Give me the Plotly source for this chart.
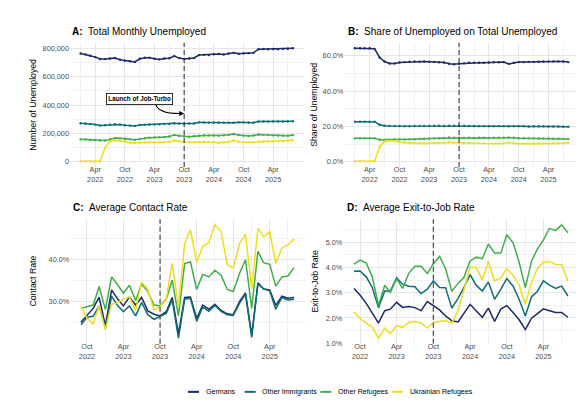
import pandas as pd
import plotly.graph_objects as go

# ---------------- data ----------------
series_names = ["Germans", "Other Immigrants", "Other Refugees", "Ukrainian Refugees"]
colors = ["#1B2A6B", "#0E6E74", "#3FAE4B", "#F0DE1E"]

months_ab = pd.date_range("2022-01-01", "2025-08-01", freq="MS")
months_cd = pd.date_range("2022-09-01", "2025-08-01", freq="MS")

# Panel A: total monthly unemployed (thousands of persons)
a_germans = [763, 757, 748, 738, 725, 724, 728, 732, 720, 712, 709, 704, 726, 733, 734, 727, 722, 728, 730, 745, 731, 725,
             728, 732, 752, 754, 752, 758, 760, 756, 763, 768, 762, 765, 766, 768, 794, 795, 793, 795, 794, 796, 797, 800]
a_other_imm = [272, 270, 266, 262, 256, 258, 262, 265, 262, 258, 255, 253, 260, 262, 263, 262, 264, 266, 267, 272, 270, 268,
               270, 270, 278, 277, 276, 277, 277, 276, 276, 275, 278, 278, 277, 276, 284, 284, 283, 284, 284, 283, 284, 286]
a_other_ref = [158, 157, 155, 153, 150, 150, 158, 167, 165, 162, 158, 155, 160, 166, 170, 172, 172, 175, 178, 188, 183, 178,
               177, 180, 184, 185, 186, 185, 183, 187, 190, 196, 188, 183, 182, 185, 192, 190, 188, 186, 185, 183, 184, 188]
a_ukr = [3, 3, 3, 3, 3, 100, 145, 152, 150, 143, 135, 133, 134, 136, 137, 136, 136, 138, 140, 150, 143, 140,
         138, 138, 140, 141, 140, 137, 135, 137, 140, 152, 142, 138, 137, 138, 142, 143, 143, 143, 144, 145, 148, 152]
a_series = [[v * 1000 for v in s] for s in (a_germans, a_other_imm, a_other_ref, a_ukr)]

# Panel B: share of unemployed (%)
b_germans = [64.2, 64.2, 64.2, 64.2, 63.9, 59.0, 56.7, 55.6, 55.6, 56.2, 56.4, 56.6, 56.7, 56.6, 56.7, 56.6, 56.5, 56.3,
             56.2, 55.5, 55.2, 55.5, 55.7, 56.0, 56.0, 56.0, 56.0, 56.2, 56.3, 56.3, 56.4, 55.4, 56.1, 56.4, 56.4, 56.5,
             56.5, 56.6, 56.7, 56.7, 56.8, 56.8, 56.7, 56.4]
b_other_imm = [22.7, 22.7, 22.7, 22.7, 22.7, 21.0, 20.4, 20.3, 20.3, 20.3, 20.2, 20.2, 20.3, 20.3, 20.3, 20.3, 20.4, 20.4,
               20.3, 20.4, 20.4, 20.5, 20.4, 20.3, 20.3, 20.2, 20.2, 20.2, 20.2, 20.2, 20.2, 20.1, 20.2, 20.2, 20.1, 20.0,
               20.1, 20.1, 20.1, 20.0, 20.0, 20.0, 19.9, 19.9]
b_other_ref = [13.3, 13.3, 13.3, 13.3, 13.3, 12.5, 12.4, 12.6, 12.7, 12.7, 12.6, 12.7, 12.8, 13.0, 13.1, 13.2, 13.3, 13.4,
               13.5, 13.8, 13.7, 13.6, 13.5, 13.6, 13.5, 13.6, 13.6, 13.5, 13.6, 13.7, 13.7, 13.8, 13.6, 13.4, 13.4, 13.3,
               13.3, 13.2, 13.2, 13.2, 13.1, 13.1, 13.0, 13.0]
b_ukr = [0.3, 0.3, 0.3, 0.3, 0.3, 8.6, 11.5, 12.0, 11.8, 11.3, 10.8, 10.6, 10.5, 10.5, 10.4, 10.5, 10.6, 10.7, 10.8,
         11.2, 10.9, 10.8, 10.6, 10.6, 10.6, 10.5, 10.5, 10.3, 10.1, 10.2, 10.4, 11.0, 10.5, 10.3, 10.2, 10.2, 10.3,
         10.3, 10.3, 10.3, 10.4, 10.5, 10.6, 10.8]
b_series = [b_germans, b_other_imm, b_other_ref, b_ukr]

# Panel C: average contact rate (%)
c_germans = [25.1, 26.8, 28.4, 31.1, 24.2, 32.8, 30.8, 29.0, 31.1, 29.2, 31.0, 27.8, 27.0, 26.6, 27.6, 31.0, 22.3, 31.0,
             31.1, 26.0, 29.2, 28.2, 29.4, 27.9, 27.1, 26.9, 30.0, 32.1, 22.0, 34.5, 33.0, 32.8, 29.1, 31.3, 30.8, 31.0]
c_other_imm = [24.5, 26.3, 26.5, 29.0, 23.7, 31.3, 29.2, 27.6, 29.0, 26.6, 29.8, 26.9, 25.8, 26.5, 27.2, 30.4, 21.3, 30.6,
               30.8, 25.3, 28.7, 27.7, 29.1, 27.7, 26.9, 26.7, 29.6, 31.8, 21.5, 34.2, 33.1, 32.6, 28.2, 31.0, 30.4, 30.6]
c_other_ref = [28.4, 28.8, 29.2, 33.6, 28.1, 35.9, 34.2, 32.0, 33.9, 30.3, 34.2, 32.4, 29.2, 29.0, 30.6, 35.1, 26.6, 39.1,
               39.5, 32.9, 36.5, 35.9, 37.5, 36.3, 32.9, 32.4, 36.7, 40.0, 28.4, 42.0, 39.3, 38.9, 33.7, 35.9, 36.1, 38.1]
c_ukr = [28.9, 26.1, 24.7, 29.0, 23.3, 29.4, 29.7, 30.6, 31.1, 28.0, 34.7, 32.9, 28.0, 28.8, 30.6, 39.1, 28.8, 43.8,
         47.1, 39.3, 43.2, 44.1, 48.3, 46.7, 38.8, 38.0, 43.8, 46.1, 33.1, 47.5, 45.5, 46.7, 39.1, 42.8, 43.5, 44.9]
c_series = [c_germans, c_other_imm, c_other_ref, c_ukr]

# Panel D: average exit-to-job rate (%)
d_germans = [3.17, 2.91, 2.58, 2.19, 1.80, 2.29, 2.35, 2.62, 2.42, 2.45, 2.41, 2.29, 2.65, 2.49, 2.32, 2.08, 1.89, 1.84,
             2.16, 2.54, 2.29, 2.03, 2.39, 1.86, 2.35, 2.49, 2.22, 1.93, 1.54, 1.99, 2.16, 2.36, 2.29, 2.22, 2.22, 2.03]
d_other_imm = [3.85, 3.86, 3.63, 3.21, 2.41, 3.07, 3.07, 3.59, 3.34, 3.26, 3.24, 2.97, 3.14, 3.47, 3.21, 3.20, 2.39, 2.78,
               3.20, 3.72, 3.30, 3.07, 3.43, 2.74, 3.14, 3.56, 3.26, 2.74, 2.08, 2.84, 3.04, 3.47, 3.30, 3.17, 3.26, 2.87]
d_other_ref = [4.13, 4.29, 4.18, 3.63, 2.50, 3.30, 3.02, 3.56, 3.17, 3.77, 4.05, 4.05, 3.76, 4.15, 4.44, 3.95, 3.06, 3.37,
               3.60, 4.26, 4.41, 4.35, 4.93, 4.57, 4.57, 5.30, 4.98, 4.22, 3.20, 4.25, 4.72, 5.09, 5.55, 5.46, 5.69, 5.38]
d_ukr = [2.23, 1.99, 1.80, 1.64, 1.20, 1.60, 1.38, 1.69, 1.63, 1.82, 1.86, 1.80, 1.60, 1.82, 1.86, 1.90, 1.80, 2.29,
         3.10, 4.02, 4.00, 3.52, 4.24, 3.47, 3.59, 3.95, 3.69, 3.30, 2.54, 3.43, 3.93, 4.22, 4.24, 4.12, 4.11, 3.47]
d_series = [d_germans, d_other_imm, d_other_ref, d_ukr]

# tick labels
x_ticks_ab = ["2022-04-01", "2022-10-01", "2023-04-01", "2023-10-01", "2024-04-01", "2024-10-01", "2025-04-01"]
x_ticks_cd = ["2022-10-01", "2023-04-01", "2023-10-01", "2024-04-01", "2024-10-01", "2025-04-01"]
x_minor_ab = ["2022-01-01", "2022-07-01", "2023-01-01", "2023-07-01", "2024-01-01", "2024-07-01", "2025-01-01", "2025-07-01"]
x_minor_cd = ["2023-01-01", "2023-07-01", "2024-01-01", "2024-07-01", "2025-01-01", "2025-07-01"]
a_yticks = [0, 200000, 400000, 600000, 800000]
a_ytext = ["0", "200,000", "400,000", "600,000", "800,000"]
b_yticks = [0, 20, 40, 60]
b_ytext = ["0.0%", "20.0%", "40.0%", "60.0%"]
c_yticks = [30, 40]
c_ytext = ["30.0%", "40.0%"]
d_yticks = [1, 2, 3, 4, 5]
d_ytext = ["1.0%", "2.0%", "3.0%", "4.0%", "5.0%"]
policy_date = "2023-10-01"
annot_label = "Launch of Job-Turbo"
annot_target_y = 340000

# ---------------- layout helpers ----------------
W, H = 584, 403
FONT = "Liberation Sans, Arial, sans-serif"
TICK_COL = "#4D4D4D"
GRID = "#E6E6E6"
GRID_MINOR = "#F1F1F1"


def px_x(v):
    return v / W


def px_y(v):
    return 1 - v / H


def tick_text(dates):
    return [pd.Timestamp(d).strftime("%b") + "<br>" + pd.Timestamp(d).strftime("%Y") for d in dates]


def expand_dates(idx, f=0.05):
    span = idx[-1] - idx[0]
    return [idx[0] - span * f, idx[-1] + span * f]


def expand_vals(series, f=0.05):
    lo = min(min(s) for s in series)
    hi = max(max(s) for s in series)
    d = (hi - lo) * f
    return [lo - d, hi + d]


panels = [
    dict(key="", x=months_ab, ys=a_series, dom_x=(62, 295.5), dom_y=(35, 160.6), xt=x_ticks_ab, xm=x_minor_ab,
         yt=a_yticks, ytx=a_ytext, ym=[100000, 300000, 500000, 700000], markers=True),
    dict(key="2", x=months_ab, ys=b_series, dom_x=(336.3, 571), dom_y=(35, 160.6), xt=x_ticks_ab, xm=x_minor_ab,
         yt=b_yticks, ytx=b_ytext, ym=[10, 30, 50], markers=True),
    dict(key="3", x=months_cd, ys=c_series, dom_x=(62.3, 296.8), dom_y=(213.3, 339.2), xt=x_ticks_cd, xm=x_minor_cd,
         yt=c_yticks, ytx=c_ytext, ym=[25, 35, 45], markers=False),
    dict(key="4", x=months_cd, ys=d_series, dom_x=(335.3, 570.6), dom_y=(213.3, 339.2), xt=x_ticks_cd, xm=x_minor_cd,
         yt=d_yticks, ytx=d_ytext, ym=[1.5, 2.5, 3.5, 4.5, 5.5], markers=False),
]

fig = go.Figure()
layout_axes = {}
shapes = []
for p in panels:
    k = p["key"]
    for name, col, ys in zip(series_names, colors, p["ys"]):
        fig.add_trace(go.Scatter(
            x=p["x"], y=ys, name=name, mode="lines+markers" if p["markers"] else "lines",
            line=dict(color=col, width=1.5), marker=dict(size=2.4, color=col),
            xaxis="x" + k, yaxis="y" + k, showlegend=False))
    xr = expand_dates(p["x"])
    yr = expand_vals(p["ys"])
    p["xr"], p["yr"] = xr, yr
    layout_axes["xaxis" + k] = dict(
        domain=[px_x(p["dom_x"][0]), px_x(p["dom_x"][1])], anchor="y" + k, type="date",
        range=[xr[0].strftime("%Y-%m-%d %H:%M"), xr[1].strftime("%Y-%m-%d %H:%M")],
        tickmode="array", tickvals=p["xt"], ticktext=tick_text(p["xt"]),
        showgrid=True, gridcolor=GRID, gridwidth=0.9, zeroline=False, showline=False, ticks="",
        ticklabelstandoff=-3,
        tickfont=dict(size=7.3, color=TICK_COL, family=FONT),
        minor=dict(tickvals=p["xm"], showgrid=True, gridcolor=GRID_MINOR, gridwidth=0.6),
    )
    layout_axes["yaxis" + k] = dict(
        domain=[px_y(p["dom_y"][1]), px_y(p["dom_y"][0])], anchor="x" + k, range=yr,
        tickmode="array", tickvals=p["yt"], ticktext=p["ytx"],
        showgrid=True, gridcolor=GRID, gridwidth=0.9, zeroline=False, showline=False, ticks="",
        tickfont=dict(size=7.3, color=TICK_COL, family=FONT),
        minor=dict(tickvals=p["ym"], showgrid=True, gridcolor=GRID_MINOR, gridwidth=0.6),
    )
    shapes.append(dict(type="line", xref="x" + k, yref=("y" + k) + " domain", x0=policy_date, x1=policy_date,
                       y0=0, y1=1, line=dict(color="#3A3A3A", width=1.1, dash="5px,3px"), layer="above"))

# ---- annotation arrow in panel A (curved, computed from data coordinates) ----
pA = panels[0]


def a_paper(date, val):
    t0, t1 = pA["xr"][0].value, pA["xr"][1].value
    fx = (pd.Timestamp(date).value - t0) / (t1 - t0)
    fy = (val - pA["yr"][0]) / (pA["yr"][1] - pA["yr"][0])
    dx0, dx1 = px_x(pA["dom_x"][0]), px_x(pA["dom_x"][1])
    dy0, dy1 = px_y(pA["dom_y"][1]), px_y(pA["dom_y"][0])
    return dx0 + fx * (dx1 - dx0), dy0 + fy * (dy1 - dy0)


sx, sy = a_paper("2023-04-08", 410000)
cx, cy = a_paper("2023-04-20", 338000)
ex, ey = a_paper("2023-09-10", annot_target_y)
shapes.append(dict(type="path", xref="paper", yref="paper",
                   path=f"M {sx},{sy} Q {cx},{cy} {ex},{ey}", line=dict(color="black", width=1.1)))

annotations = []
annotations.append(dict(x=policy_date, y=annot_target_y, xref="x", yref="y", text="", showarrow=True,
                        ax=-9, ay=0, arrowhead=2, arrowsize=0.9, arrowwidth=1.1, arrowcolor="black"))
annotations.append(dict(x="2022-12-28", y=441000, xref="x", yref="y", text="<b>" + annot_label + "</b>",
                        showarrow=False, font=dict(size=6.3, color="black", family=FONT),
                        bgcolor="white", bordercolor="black", borderwidth=0.8, borderpad=1.5))

# panel titles
titles = [("A:", "Total Monthly Unemployed", 61.7, 23.3),
          ("B:", "Share of Unemployed on Total Unemployed", 337.7, 23.7),
          ("C:", "Average Contact Rate", 62.7, 201.7),
          ("D:", "Average Exit-to-Job Rate", 337.0, 201.7)]
for lab, txt, x, y in titles:
    annotations.append(dict(x=px_x(x), y=px_y(y), xref="paper", yref="paper", xanchor="left", yanchor="middle",
                            text="<b>" + lab + "</b>&nbsp;&nbsp;" + txt, showarrow=False,
                            font=dict(size=10, color="black", family=FONT)))

# axis titles
ytitles = [("Number of Unemployed", 25, 97.8), ("Share of Unemployed", 306, 97.8),
           ("Contact Rate", 25, 276.2), ("Exit-to-Job Rate", 307, 276.2)]
for txt, x, y in ytitles:
    annotations.append(dict(x=px_x(x), y=px_y(y), xref="paper", yref="paper", xanchor="center", yanchor="middle",
                            text=txt, textangle=-90, showarrow=False,
                            font=dict(size=8.7, color="black", family=FONT)))

# legend (manual, ggplot style)
legend_y = 387.7
legend_items = [(180, 191, 196), (236.7, 247.7, 252.3), (312.3, 323.3, 327.5), (384, 395, 399.5)]
for (l0, l1, tx), name, col in zip(legend_items, series_names, colors):
    shapes.append(dict(type="line", xref="paper", yref="paper", x0=px_x(l0), x1=px_x(l1),
                       y0=px_y(legend_y), y1=px_y(legend_y), line=dict(color=col, width=2)))
    annotations.append(dict(x=px_x(tx), y=px_y(legend_y), xref="paper", yref="paper", xanchor="left",
                            yanchor="middle", text=name, showarrow=False,
                            font=dict(size=7.1, color="black", family=FONT)))

fig.update_layout(
    width=W, height=H, margin=dict(l=0, r=0, t=0, b=0),
    paper_bgcolor="white", plot_bgcolor="white",
    font=dict(family=FONT, color="black"),
    shapes=shapes, annotations=annotations, showlegend=False,
    **layout_axes,
)

fig.write_html("out.html")
